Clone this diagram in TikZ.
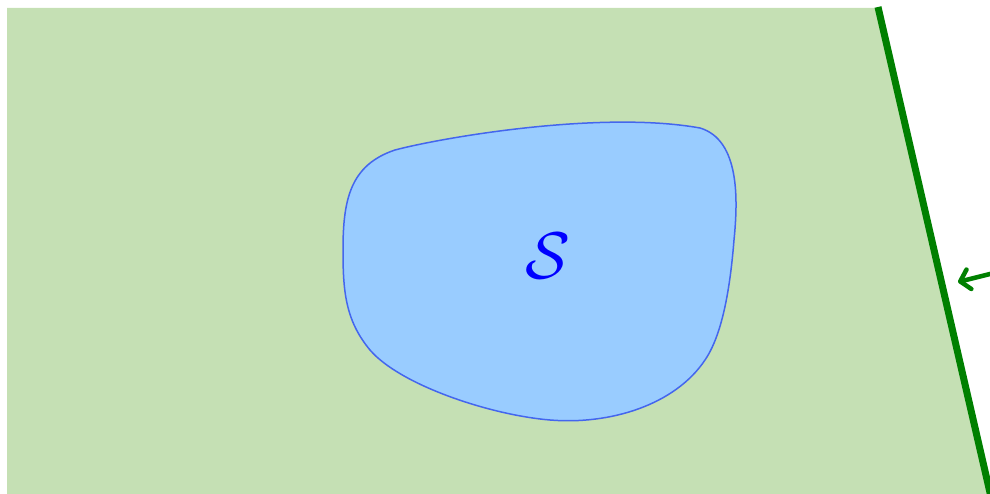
\documentclass[tikz,border=0pt]{standalone}
\usetikzlibrary{arrows.meta}
\definecolor{halfgreen}{HTML}{C5E0B4}
\definecolor{edgegreen}{HTML}{008000}
\definecolor{blobfill}{HTML}{99CCFF}
\definecolor{blobedge}{HTML}{4466EE}
\tikzset{
  region/.style={fill=halfgreen, draw=none},
  boundary/.style={draw=edgegreen, line width=7pt},
  normalarrow/.style={draw=edgegreen, line width=4.5pt, line cap=round, -{Straight Barb[length=9pt,width=20pt,round]}},
  blob/.style={fill=blobfill, draw=blobedge, line width=1.5pt},
}
\begin{document}
\begin{tikzpicture}[x=1pt,y=-1pt]
\useasboundingbox (0,0) rectangle (990,494);
\fill[region] (7,8) -- (878,8) -- (991,494) -- (7,494) -- cycle;
\draw[boundary] (878,7) -- (991,497);
\draw[blob] (343,250)
  .. controls (343,200) and (350,165) .. (395,150)
  .. controls (440,138) and (600,110) .. (700,128)
  .. controls (740,140) and (738,200) .. (734,240)
  .. controls (730,290) and (722,335) .. (705,360)
  .. controls (675,405) and (610,425) .. (550,420)
  .. controls (490,415) and (400,385) .. (370,350)
  .. controls (345,320) and (343,290) .. (343,250) -- cycle;
\node[text=blue] (S) at (548,256) {\scalebox{6.6}{$\mathcal{S}$}};
\coordinate (ntail) at (998,272);
\coordinate (nhead) at (958,282);
\draw[normalarrow] (ntail) -- (nhead);
\end{tikzpicture}
\end{document}
